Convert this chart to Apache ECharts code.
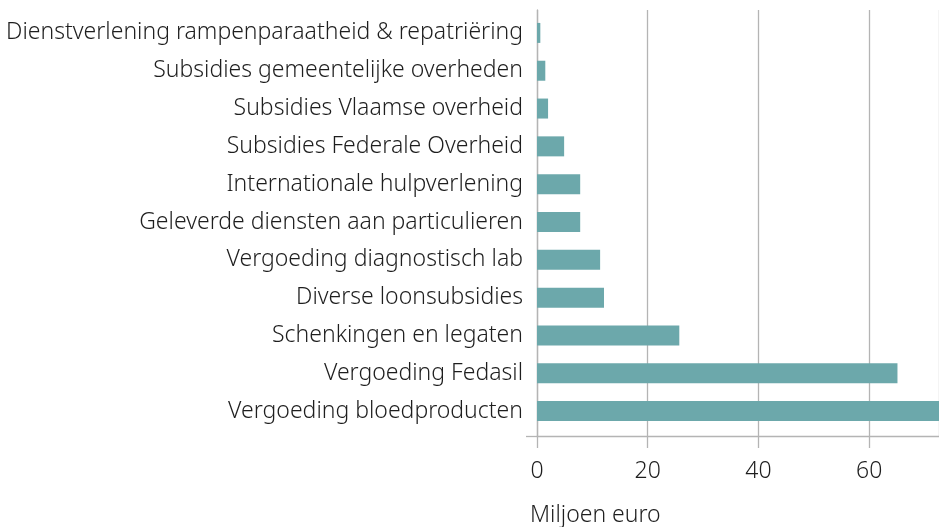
<!DOCTYPE html>
<html>
<head>
<meta charset="utf-8">
<script src="https://cdn.jsdelivr.net/npm/echarts@6/dist/echarts.min.js"></script>
<style>
  html, body { margin: 0; padding: 0; background: #fff; }
  #chart { width: 939px; height: 527px; }
</style>
</head>
<body>
<div id="chart"></div>
<script>
// categories, bottom to top (category axis starts at the bottom)
const categories = [
  'Vergoeding bloedproducten',
  'Vergoeding Fedasil',
  'Schenkingen en legaten',
  'Diverse loonsubsidies',
  'Vergoeding diagnostisch lab',
  'Geleverde diensten aan particulieren',
  'Internationale hulpverlening',
  'Subsidies Federale Overheid',
  'Subsidies Vlaamse overheid',
  'Subsidies gemeentelijke overheden',
  'Dienstverlening rampenparaatheid & repatriëring'
]
// miljoen euro
const values = [72.6, 65.1, 25.7, 12.1, 11.4, 7.8, 7.8, 4.9, 2.0, 1.5, 0.6]
const xTicks = [0, 20, 40, 60]
const xMax = 72.6

const fontFamily = '"Noto Sans", "Open Sans", sans-serif'
const gridColor = '#b4b4b4'
const textColor = '#1e1e1e'

const chart = echarts.init(document.getElementById('chart'))
chart.setOption({
  animation: false,
  textStyle: { fontFamily: fontFamily },
  title: {
    text: 'Miljoen euro',
    left: 525,
    top: 499,
    textStyle: { fontSize: 23, fontWeight: 300, color: textColor, fontFamily: fontFamily }
  },
  // grid 0: panel frame (axis lines, grid lines, x labels)
  // grid 1: bars and category labels, slightly inset like the original
  grid: [
    { left: 537, right: 0, top: 10, bottom: 91 },
    { left: 537, right: 0, top: 14, bottom: 97 }
  ],
  xAxis: [{
    gridIndex: 0,
    type: 'value',
    min: 0,
    max: xMax,
    interval: 20,
    axisLine: { show: true, lineStyle: { color: gridColor, width: 1.3 } },
    axisTick: { show: true, length: 12, lineStyle: { color: gridColor, width: 1.3 } },
    splitLine: { show: true, lineStyle: { color: gridColor, width: 1.3 } },
    axisLabel: {
      margin: 24,
      fontSize: 23,
      fontWeight: 300,
      color: textColor,
      showMaxLabel: false,
      formatter: v => xTicks.includes(v) ? String(v) : ''
    }
  }, {
    gridIndex: 1,
    type: 'value',
    min: 0,
    max: xMax,
    show: false
  }],
  yAxis: [{
    gridIndex: 0,
    type: 'value',
    min: 0,
    max: 1,
    interval: 1,
    axisLine: { show: true, lineStyle: { color: gridColor, width: 1.3 } },
    axisTick: { show: true, length: 11, customValues: [0], lineStyle: { color: gridColor, width: 1.3 } },
    axisLabel: { show: false },
    splitLine: { show: false }
  }, {
    gridIndex: 1,
    type: 'category',
    data: categories,
    axisLine: { show: false },
    axisTick: { show: false },
    axisLabel: {
      margin: 14,
      fontSize: 23,
      fontWeight: 300,
      color: textColor
    }
  }],
  series: [{
    type: 'bar',
    xAxisIndex: 1,
    yAxisIndex: 1,
    data: values,
    barWidth: 20,
    itemStyle: { color: '#6ca8ab' }
  }]
})
</script>
</body>
</html>
